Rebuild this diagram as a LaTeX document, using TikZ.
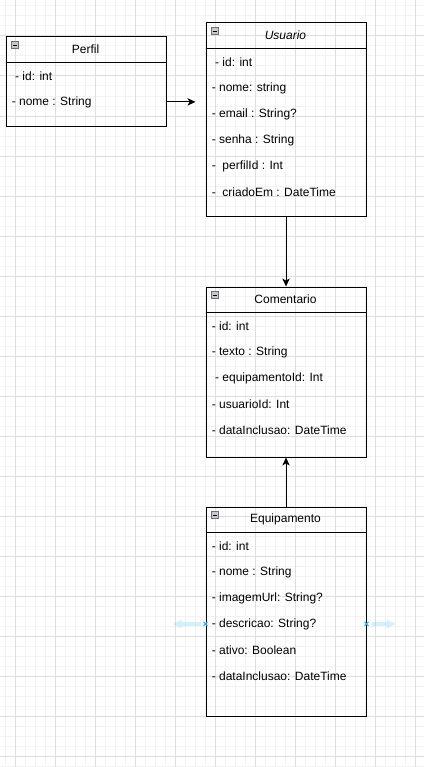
\documentclass[tikz,border=0pt]{standalone}
\usepackage{fontspec}
\setmainfont{Liberation Sans}
\usetikzlibrary{arrows.meta}

\definecolor{gridminor}{RGB}{243,243,243}
\definecolor{gridmajor}{RGB}{222,222,222}
\definecolor{hoverblue}{RGB}{41,182,242}

\tikzset{
  classbox/.style={draw, line width=0.75pt, anchor=north west, minimum width=120pt, inner sep=0pt},
  minusicon/.style={draw={rgb,255:red,110;green,110;blue,120}, fill={rgb,255:red,200;green,200;blue,205}, line width=0.5pt, anchor=north west, minimum size=5.25pt, inner sep=0pt,
    path picture={\draw[black, line width=0.6pt] ([xshift=1.1pt]path picture bounding box.west) -- ([xshift=-1.1pt]path picture bounding box.east);}},
  titletext/.style={inner sep=0pt, font=\fontsize{9}{11}\selectfont},
  attrtext/.style={anchor=west, inner sep=0pt, font=\fontsize{9}{11}\selectfont},
  assoc/.style={line width=0.75pt, -{Stealth[length=6pt,width=5.5pt,inset=1.6pt]}},
  hoverarrow/.style={fill=hoverblue, fill opacity=0.2, draw=none},
}

\begin{document}
\begin{tikzpicture}[x=0.75pt,y=0.75pt,yscale=-1,xscale=1]
\useasboundingbox (0,0) rectangle (424,767);
\fill[white] (0,0) rectangle (424,767);

%Grid
\foreach \gx in {5.5,15.5,...,425} \draw[gridminor, line width=0.75pt] (\gx,0) -- (\gx,767);
\foreach \gy in {6,16,...,767} \draw[gridminor, line width=0.75pt] (0,\gy) -- (424,\gy);
\foreach \gx in {15.5,55.5,...,425} \draw[gridmajor, line width=0.75pt] (\gx,0) -- (\gx,767);
\foreach \gy in {36,76,...,767} \draw[gridmajor, line width=0.75pt] (0,\gy) -- (424,\gy);

%Shape: Class Perfil
\node [classbox, minimum height=67.1pt] (perfil) at (5.5,36.5) {};
\draw [line width=0.75pt] ([yshift=19.5pt]perfil.north west) -- ([yshift=19.5pt]perfil.north east);
\node [minusicon] (perfil-icon) at ([xshift=4.3pt,yshift=3.5pt]perfil.north west) {};
\node [titletext] (perfil-title) at (85.5,49.5) {Perfil};
\foreach \txt [count=\i] in {{\ - id: int},{- nome : String}}
  \node [attrtext] (perfil-\i) at (11.5,{49.9+26*\i}) {\txt};

%Shape: Class Usuario
\node [classbox, minimum height=145.1pt] (usuario) at (205.5,22.5) {};
\draw [line width=0.75pt] ([yshift=19.5pt]usuario.north west) -- ([yshift=19.5pt]usuario.north east);
\node [minusicon] (usuario-icon) at ([xshift=4.3pt,yshift=3.5pt]usuario.north west) {};
\node [titletext, font=\fontsize{9}{11}\selectfont\itshape] (usuario-title) at (285.5,35.5) {Usuario};
\foreach \txt [count=\i] in {{\ - id: int},{- nome: string},{- email : String?},{- senha : String},{-\ \ perfilId : Int},{-\ \ criadoEm : DateTime}}
  \node [attrtext] (usuario-\i) at (211.5,{35.9+26*\i}) {\txt};

%Shape: Class Comentario
\node [classbox, minimum height=127.5pt] (comentario) at (205.5,286.5) {};
\draw [line width=0.75pt] ([yshift=19.5pt]comentario.north west) -- ([yshift=19.5pt]comentario.north east);
\node [minusicon] (comentario-icon) at ([xshift=4.3pt,yshift=3.5pt]comentario.north west) {};
\node [titletext] (comentario-title) at (285.5,299.5) {Comentario};
\foreach \txt [count=\i] in {{- id: int},{- texto : String},{\ - equipamentoId: Int},{- usuarioId: Int},{- dataInclusao: DateTime}}
  \node [attrtext] (comentario-\i) at (211.5,{299.9+26*\i}) {\txt};

%Shape: Class Equipamento
\node [classbox, minimum height=157.1pt] (equipamento) at (205.5,506.5) {};
\draw [line width=0.75pt] ([yshift=19.5pt]equipamento.north west) -- ([yshift=19.5pt]equipamento.north east);
\node [minusicon] (equipamento-icon) at ([xshift=4.3pt,yshift=3.5pt]equipamento.north west) {};
\node [titletext] (equipamento-title) at (285.5,519.5) {Equipamento};
\foreach \txt [count=\i] in {{- id: int},{- nome : String},{- imagemUrl: String?},{- descricao: String?},{- ativo: Boolean},{- dataInclusao: DateTime}}
  \node [attrtext] (equipamento-\i) at (211.5,{519.9+26*\i}) {\txt};

%Straight Lines
\draw [assoc, shorten >=7.5pt] (perfil.east |- perfil-2) -- (usuario.west |- perfil-2);
\draw [assoc] (usuario.south) -- (comentario.north);
\draw [assoc] (equipamento.north) -- (comentario.south);

%Hover arrows
\fill [hoverarrow] (201,622) -- (181.5,622) -- (181.5,619.7) -- (173,623.9) -- (181.5,628.1) -- (181.5,625.8) -- (201,625.8) -- cycle;
\fill [hoverarrow] (371.5,622) -- (387,622) -- (387,619.7) -- (395.7,623.9) -- (387,628.1) -- (387,625.8) -- (371.5,625.8) -- cycle;
\coordinate (hover-w) at (equipamento.west |- equipamento-4);
\coordinate (hover-e) at (equipamento.east |- equipamento-4);
\foreach \c in {hover-w,hover-e}
  \draw [hoverblue, line width=0.75pt] ([xshift=-1.5pt,yshift=-1.5pt]\c) -- ([xshift=1.5pt,yshift=1.5pt]\c) ([xshift=-1.5pt,yshift=1.5pt]\c) -- ([xshift=1.5pt,yshift=-1.5pt]\c);

\end{tikzpicture}
\end{document}
